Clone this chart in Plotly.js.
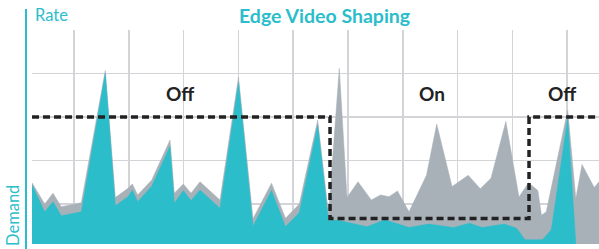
<!DOCTYPE html>
<html>
<head>
<meta charset="utf-8">
<script src="https://cdn.plot.ly/plotly-3.0.1.min.js"></script>
<style>html,body{margin:0;padding:0;background:#fff;}#chart{width:599px;height:249px;}</style>
</head>
<body>
<div id="chart"></div>
<script>
// ---- data (x in time units, gridline every 10; y in rate units) ----
const demandX = [2.34,4.65,6.17,7.68,11.33,15.71,17.54,19.85,20.64,21.62,24.18,27.52,28.30,29.95,31.35,32.99,36.64,40.02,42.66,46.04,48.59,51.11,54.47,56.44,58.41,59.82,61.82,64.25,65.93,67.48,69.03,71.13,74.32,76.19,78.98,81.93,84.14,86.09,88.80,91.20,92.94,94.64,95.31,96.17,100.09,101.57,102.70,104.93,105.80];
const demandY = [1.49,1.00,1.25,0.94,1.03,4.07,1.15,1.36,1.46,1.21,1.55,2.47,1.25,1.46,1.25,1.51,1.09,3.92,0.66,1.48,0.67,1.00,2.93,0.77,4.12,1.15,1.51,1.09,1.21,1.17,1.30,0.82,1.66,2.84,1.40,1.66,1.35,1.59,2.90,1.16,1.49,1.31,0.74,0.82,3.16,1.12,1.91,1.38,1.51];
const rateX = [2.34,4.65,6.17,7.68,11.33,15.71,17.54,19.85,20.64,21.62,24.18,27.52,28.30,29.95,31.35,32.99,36.64,40.02,42.66,46.04,48.59,51.11,54.47,56.44,57.99,63.47,66.75,71.13,74.69,79.25,82.17,84.45,88.56,90.78,92.30,95.49,97.10,100.09,101.61,105.80];
const rateY = [1.44,0.82,1.05,0.73,0.82,4.00,0.96,1.17,1.32,1.05,1.41,2.33,1.02,1.31,1.08,1.32,0.90,3.79,0.49,1.31,0.48,0.80,2.81,0.61,0.63,0.48,0.64,0.46,0.54,0.46,0.56,0.46,0.54,0.44,0.18,0.18,0.41,2.98,0,0];
const limitX = [2.34,56.72,56.72,93.03,93.03,105.80];
const limitY = [3.0,3.0,0.667,0.667,3.0,3.0];
const modeLabels = ["Off","On","Off"];
const titleText = "Edge Video Shaping";
const yTopLabel = "Rate";
const yBottomLabel = "Demand";

// ---- layout helpers (pixel -> paper) ----
const L = 32, T = 30, W = 567, H = 214;
const px = x => (x - L) / W;
const py = y => (T + H - y) / H;

const TEAL = "#2cbdcb", GREY = "#a8b1b8", FONT = "Lato, 'Open Sans', sans-serif";

const traces = [
  {x: demandX, y: demandY, type: "scatter", mode: "lines", fill: "tozeroy",
   line: {color: GREY, width: 0.5}, fillcolor: GREY, hoverinfo: "skip"},
  {x: rateX, y: rateY, type: "scatter", mode: "lines", fill: "tozeroy",
   line: {color: TEAL, width: 0.5}, fillcolor: TEAL, hoverinfo: "skip"},
  {x: limitX, y: limitY, type: "scatter", mode: "lines",
   line: {color: "#222222", width: 3.5, dash: "7px,4px"}, hoverinfo: "skip"}
];

const labelPos = [[180, 93], [432, 93], [562, 93]];
const annotations = modeLabels.map((t, i) => ({
  text: t, xref: "paper", yref: "paper", x: px(labelPos[i][0]), y: py(labelPos[i][1]),
  xanchor: "center", yanchor: "middle", showarrow: false,
  font: {family: FONT, size: 19, color: "#222222", weight: 700}
}));
annotations.push({text: yTopLabel, xref: "paper", yref: "paper", x: px(33), y: py(15.5),
  xanchor: "left", yanchor: "middle", showarrow: false,
  font: {family: FONT, size: 16.5, color: TEAL}});
annotations.push({text: yBottomLabel, xref: "paper", yref: "paper", x: px(12.5), y: py(215.5),
  xanchor: "center", yanchor: "middle", showarrow: false, textangle: -90,
  font: {family: FONT, size: 16.5, color: TEAL}});
annotations.push({text: titleText, xref: "paper", yref: "paper", x: px(324), y: py(15),
  xanchor: "center", yanchor: "middle", showarrow: false,
  font: {family: FONT, size: 19.5, color: TEAL, weight: 700}});

const layout = {
  width: 599, height: 249,
  margin: {l: L, r: 0, t: T, b: 249 - T - H, pad: 0},
  paper_bgcolor: "#ffffff", plot_bgcolor: "#ffffff",
  showlegend: false,
  xaxis: {range: [2.336, 105.8], tick0: 0, dtick: 10, showticklabels: false, ticks: "",
          showgrid: true, gridcolor: "#d4d4d8", gridwidth: 1.5, zeroline: false, showline: false, fixedrange: true},
  yaxis: {range: [0.0805, 5.002], tick0: 0, dtick: 1, showticklabels: false, ticks: "",
          showgrid: true, gridcolor: "#d4d4d8", gridwidth: 1.5, zeroline: false, showline: false, fixedrange: true},
  annotations: annotations,
  shapes: [{type: "line", xref: "paper", yref: "paper", x0: px(26), x1: px(26), y0: py(249), y1: py(9),
            line: {color: TEAL, width: 2}}]
};

Plotly.newPlot("chart", traces, layout, {staticPlot: true, displayModeBar: false});
</script>
</body>
</html>
